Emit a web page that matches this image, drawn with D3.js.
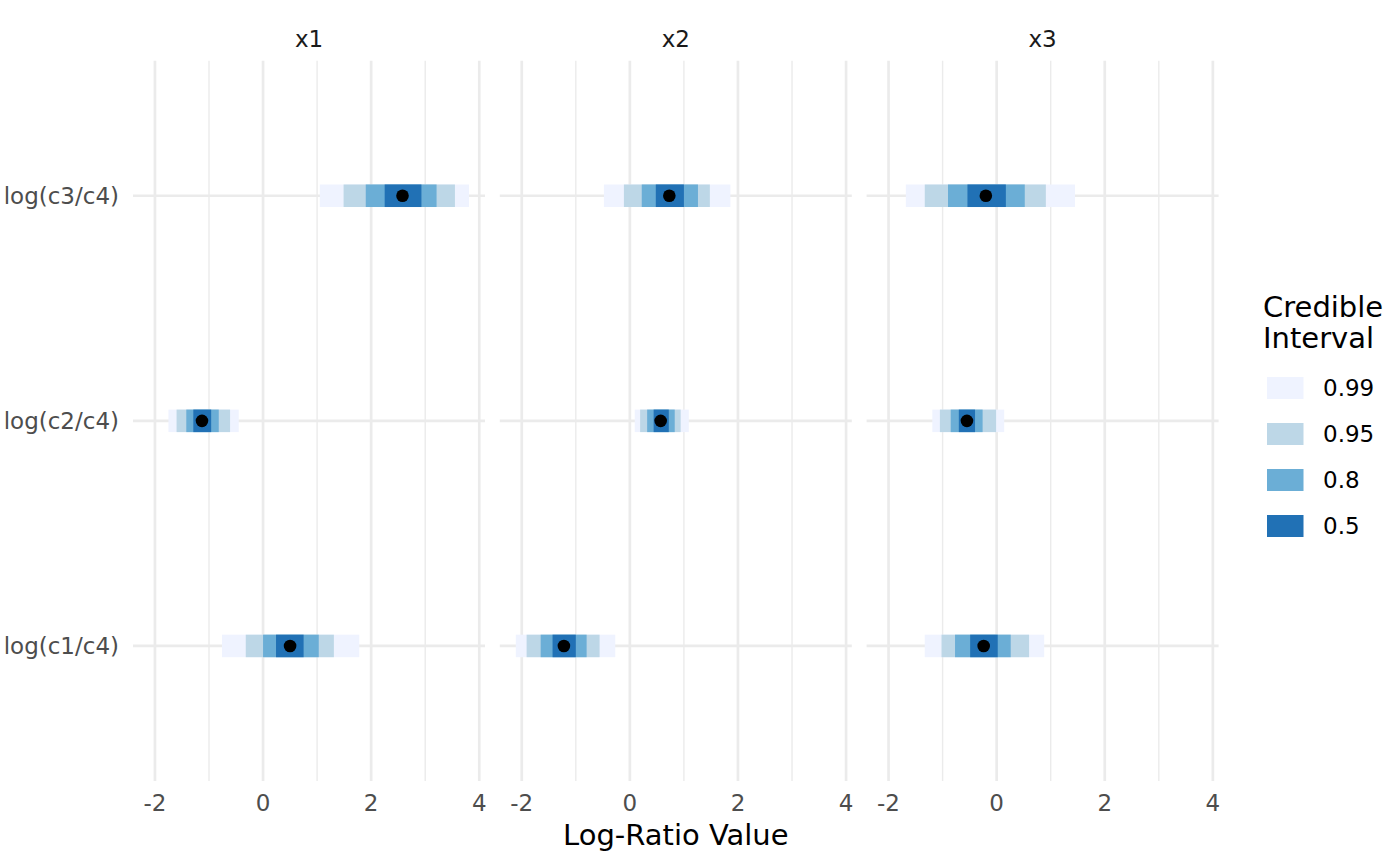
<!DOCTYPE html>
<html><head><meta charset="utf-8">
<script src="https://cdn.jsdelivr.net/npm/d3@7"></script>
<style>body{margin:0;background:#fff}svg{display:block;font-family:"DejaVu Sans",sans-serif}</style>
</head><body><svg id="c" width="1400" height="866"></svg>
<script>
const facets = ["x1","x2","x3"];
const categories = ["log(c1/c4)","log(c2/c4)","log(c3/c4)"];
const levels = ["0.99","0.95","0.8","0.5"];
const levelColors = ["#EFF3FF","#BDD7E7","#6BAED6","#2171B5"];
const xTicks = [-2,0,2,4];
const xMinorTicks = [-1,1,3];
// [facet][category]
const lower99 = [[-0.76,-1.75,1.05],[-2.11,0.09,-0.48],[-1.33,-1.19,-1.68]];
const upper99 = [[1.78,-0.45,3.81],[-0.27,1.09,1.86],[0.88,0.14,1.45]];
const lower95 = [[-0.32,-1.60,1.49],[-1.91,0.19,-0.11],[-1.02,-1.05,-1.33]];
const upper95 = [[1.31,-0.61,3.55],[-0.56,0.94,1.48],[0.60,-0.01,0.91]];
const lower80 = [[0.00,-1.42,1.90],[-1.65,0.32,0.22],[-0.77,-0.85,-0.90]];
const upper80 = [[1.03,-0.82,3.21],[-0.80,0.83,1.26],[0.26,-0.26,0.52]];
const lower50 = [[0.24,-1.29,2.25],[-1.43,0.44,0.48],[-0.49,-0.70,-0.54]];
const upper50 = [[0.75,-0.96,2.93],[-1.00,0.72,1.00],[0.02,-0.40,0.17]];
const medians = [[0.50,-1.13,2.58],[-1.22,0.57,0.73],[-0.24,-0.55,-0.20]];

const lowers = [lower99,lower95,lower80,lower50];
const uppers = [upper99,upper95,upper80,upper50];

const svg = d3.select("#c");
const panelTop = 60.7, panelBottom = 781;
const panelLeft0 = 133, panelW = 352, gap = 14.8;
const smallFont = 23, bigFont = 29;

const allVals = [].concat(...lower99.flat(), ...upper99.flat());
const dmin = d3.min(allVals), dmax = d3.max(allVals);
const ex = (dmax - dmin) * 0.05;

const y = d3.scalePoint().domain(categories.slice().reverse())
  .range([panelTop, panelBottom]).padding(0.6);
const step = y.step();
const barH = step * 0.1;

facets.forEach((f, fi) => {
  const left = panelLeft0 + fi * (panelW + gap);
  const x = d3.scaleLinear().domain([dmin - ex, dmax + ex]).range([left, left + panelW]);
  const g = svg.append("g");
  g.selectAll(".mn").data(xMinorTicks).enter().append("line")
    .attr("x1", d => x(d)).attr("x2", d => x(d))
    .attr("y1", panelTop).attr("y2", panelBottom)
    .attr("stroke", "#EBEBEB").attr("stroke-width", 1.4);
  g.selectAll(".mj").data(xTicks).enter().append("line")
    .attr("x1", d => x(d)).attr("x2", d => x(d))
    .attr("y1", panelTop).attr("y2", panelBottom)
    .attr("stroke", "#EBEBEB").attr("stroke-width", 2.7);
  g.selectAll(".hy").data(categories).enter().append("line")
    .attr("x1", left).attr("x2", left + panelW)
    .attr("y1", d => y(d)).attr("y2", d => y(d))
    .attr("stroke", "#EBEBEB").attr("stroke-width", 2.7);
  levels.forEach((lv, li) => {
    g.selectAll(".r" + li).data(categories).enter().append("rect")
      .attr("x", (d, ci) => x(lowers[li][fi][ci]))
      .attr("width", (d, ci) => x(uppers[li][fi][ci]) - x(lowers[li][fi][ci]))
      .attr("y", d => y(d) - barH / 2)
      .attr("height", barH)
      .attr("fill", levelColors[li]);
  });
  g.selectAll(".pt").data(categories).enter().append("circle")
    .attr("cx", (d, ci) => x(medians[fi][ci]))
    .attr("cy", d => y(d)).attr("r", 6.3).attr("fill", "#000");
  g.selectAll(".tl").data(xTicks).enter().append("text")
    .attr("x", d => x(d)).attr("y", 811)
    .attr("text-anchor", "middle").attr("font-size", smallFont).attr("fill", "#4D4D4D")
    .text(d => d);
  g.append("text").attr("x", left + panelW / 2).attr("y", 46.5)
    .attr("text-anchor", "middle").attr("font-size", smallFont).attr("fill", "#1A1A1A").text(f);
});

svg.selectAll(".yl").data(categories).enter().append("text")
  .attr("x", 119).attr("y", d => y(d)).attr("dy", "0.35em")
  .attr("text-anchor", "end").attr("font-size", smallFont).attr("fill", "#4D4D4D").text(d => d);

svg.append("text").attr("x", panelLeft0 + (3 * panelW + 2 * gap) / 2).attr("y", 845)
  .attr("text-anchor", "middle").attr("font-size", bigFont).attr("fill", "#000").text("Log-Ratio Value");

const lg = svg.append("g");
lg.append("text").attr("x", 1263).attr("y", 316.5).attr("font-size", bigFont).text("Credible");
lg.append("text").attr("x", 1263).attr("y", 348).attr("font-size", bigFont).text("Interval");
levels.forEach((lv, i) => {
  const cy = 388 + i * 46;
  lg.append("rect").attr("x", 1267).attr("y", cy - 11).attr("width", 36.5).attr("height", 22)
    .attr("fill", levelColors[i]);
  lg.append("text").attr("x", 1323).attr("y", cy).attr("dy", "0.35em")
    .attr("font-size", smallFont).text(lv);
});
</script></body></html>
